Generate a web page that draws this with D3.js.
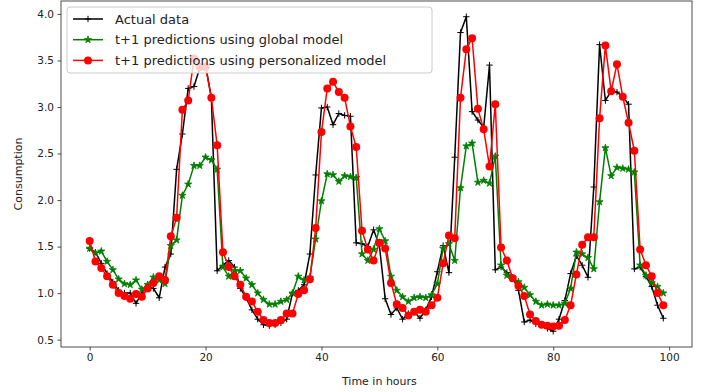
<!DOCTYPE html>
<html>
<head>
<meta charset="utf-8">
<script src="https://cdn.jsdelivr.net/npm/d3@7"></script>
<style>
  body { margin: 0; background: #fff; }
  svg { display: block; font-family: "DejaVu Sans", sans-serif; }
</style>
</head>
<body>
<svg id="chart"></svg>
<script>
// values, one per hour (0..99)
const actual = [
  1.48, 1.44, 1.32, 1.21, 1.12, 1.03, 1.00, 1.00, 0.89, 1.00,
  1.07, 1.05, 0.95, 1.28, 1.42, 2.33, 2.71, 3.20, 3.22, 3.42,
  3.45, 3.10, 1.24, 1.30, 1.35, 1.28, 1.05, 0.95, 0.82, 0.72,
  0.66, 0.65, 0.66, 0.68, 0.72, 1.00, 1.03, 1.09, 1.42, 2.27,
  2.99, 3.00, 2.81, 2.93, 2.91, 2.90, 1.54, 1.53, 1.50, 1.68,
  1.51, 0.94, 0.77, 0.84, 0.72, 0.78, 0.80, 0.73, 0.82, 0.96,
  1.23, 1.51, 1.22, 2.46, 3.80, 3.97, 2.95, 2.86, 2.78, 3.45,
  1.25, 1.28, 1.22, 1.17, 1.03, 0.69, 0.71, 0.67, 0.66, 0.62,
  0.59, 0.72, 0.92, 1.21, 1.40, 1.30, 1.17, 2.14, 3.67, 3.07,
  3.17, 3.16, 3.11, 3.03, 1.26, 1.28, 1.18, 1.07, 0.87, 0.73
]

const globalPred = [
  1.48, 1.43, 1.45, 1.34, 1.25, 1.15, 1.10, 1.09, 1.14, 1.04,
  1.09, 1.17, 1.14, 1.10, 1.51, 1.57, 2.05, 2.17, 2.37, 2.37,
  2.46, 2.43, 2.33, 1.28, 1.18, 1.24, 1.24, 1.16, 1.09, 1.00,
  0.93, 0.88, 0.88, 0.91, 0.93, 1.00, 1.18, 1.14, 1.17, 1.58,
  1.99, 2.28, 2.27, 2.20, 2.26, 2.25, 2.24, 1.42, 1.35, 1.47,
  1.69, 1.56, 1.18, 1.03, 0.96, 0.91, 0.95, 0.96, 0.95, 0.98,
  1.10, 1.48, 1.53, 1.35, 2.13, 2.58, 2.61, 2.19, 2.21, 2.18,
  2.47, 1.30, 1.19, 1.16, 1.12, 1.06, 0.98, 0.91, 0.87, 0.88,
  0.87, 0.87, 0.89, 1.05, 1.44, 1.42, 1.38, 1.26, 1.98, 2.56,
  2.26, 2.35, 2.34, 2.33, 2.30, 1.30, 1.19, 1.11, 1.07, 1.00
]

const personalPred = [
  1.56, 1.34, 1.27, 1.18, 1.09, 1.00, 0.97, 0.94, 0.99, 0.96,
  1.05, 1.11, 1.18, 1.14, 1.61, 1.81, 2.97, 3.07, 3.52, 3.43,
  3.43, 3.10, 2.59, 1.44, 1.28, 1.18, 1.09, 0.96, 0.91, 0.80,
  0.71, 0.68, 0.68, 0.71, 0.78, 0.78, 0.99, 1.03, 1.15, 1.70,
  2.73, 3.20, 3.27, 3.16, 3.10, 2.79, 2.57, 1.67, 1.47, 1.35,
  1.54, 1.48, 1.11, 0.88, 0.84, 0.76, 0.80, 0.82, 0.80, 0.87,
  0.95, 1.32, 1.62, 1.59, 3.10, 3.62, 3.74, 2.98, 2.76, 2.36,
  3.03, 1.49, 1.35, 1.16, 1.08, 0.97, 0.77, 0.70, 0.66, 0.65,
  0.64, 0.65, 0.71, 0.87, 1.20, 1.52, 1.60, 1.60, 2.88, 3.66,
  3.17, 3.46, 3.11, 2.83, 2.53, 1.47, 1.30, 1.18, 1.00, 0.87
]

const xTicks = [0, 20, 40, 60, 80, 100]
const yTicks = [0.5, 1.0, 1.5, 2.0, 2.5, 3.0, 3.5, 4.0]

const series = [
  {name: "Actual data", values: actual, color: "#000000", marker: "plus"},
  {name: "t+1 predictions using global model", values: globalPred, color: "#008000", marker: "star"},
  {name: "t+1 predictions using personalized model", values: personalPred, color: "#ff0000", marker: "circle"},
]

const width = 709
const height = 392
const margin = {top: 1, right: 17, bottom: 45, left: 61}

const svg = d3.select("#chart")
  .attr("width", width)
  .attr("height", height)
  .attr("viewBox", `0 0 ${width} ${height}`)

// matplotlib style 5% padding around the data
const n = actual.length
const xPad = (n - 1) * 0.05
const all = series.flatMap(s => s.values)
const [lo, hi] = d3.extent(all)
const yPad = (hi - lo) * 0.05

const x = d3.scaleLinear()
  .domain([-xPad, n - 1 + xPad])
  .range([margin.left, width - margin.right])

const y = d3.scaleLinear()
  .domain([lo - yPad, hi + yPad])
  .range([height - margin.bottom, margin.top])

const line = d3.line()
  .x((d, i) => x(i))
  .y(d => y(d))

const star = d3.symbol().type(d3.symbolStar).size(16)()

function drawMarker(g, kind, color) {
  if (kind == "plus") {
    g.append("path")
      .attr("d", "M-3.2,0H3.2M0,-3.2V3.2")
      .attr("stroke", color)
      .attr("stroke-width", 1)
      .attr("fill", "none")
  } else if (kind == "star") {
    g.append("path")
      .attr("d", star)
      .attr("fill", color)
      .attr("stroke", color)
      .attr("stroke-width", 0.8)
  } else {
    g.append("circle")
      .attr("r", 4)
      .attr("fill", color)
  }
}

const plot = svg.append("g")

for (const s of series) {
  plot.append("path")
    .datum(s.values)
    .attr("d", line)
    .attr("fill", "none")
    .attr("stroke", s.color)
    .attr("stroke-width", 1.5)
    .attr("stroke-linejoin", "round")

  plot.append("g")
    .selectAll("g")
    .data(s.values)
    .join("g")
      .attr("transform", (d, i) => `translate(${x(i)},${y(d)})`)
      .each(function () { drawMarker(d3.select(this), s.marker, s.color) })
}

// frame
svg.append("rect")
  .attr("x", margin.left)
  .attr("y", margin.top)
  .attr("width", width - margin.left - margin.right)
  .attr("height", height - margin.top - margin.bottom)
  .attr("fill", "none")
  .attr("stroke", "#222")
  .attr("stroke-width", 0.8)

const xAxis = svg.append("g")
  .attr("transform", `translate(0,${height - margin.bottom})`)
  .call(d3.axisBottom(x).tickValues(xTicks).tickSize(3.5).tickPadding(3.5).tickFormat(d3.format("d")))
xAxis.select(".domain").remove()

const yAxis = svg.append("g")
  .attr("transform", `translate(${margin.left},0)`)
  .call(d3.axisLeft(y).tickValues(yTicks).tickSize(3.5).tickPadding(3.5).tickFormat(d3.format(".1f")))
yAxis.select(".domain").remove()

svg.selectAll(".tick text")
  .attr("font-family", "DejaVu Sans, sans-serif")
  .attr("font-size", 10.5)
  .attr("fill", "#222")
svg.selectAll(".tick line").attr("stroke", "#222").attr("stroke-width", 0.8)

svg.append("text")
  .attr("x", x(50))
  .attr("y", 385)
  .attr("text-anchor", "middle")
  .attr("font-size", 11)
  .attr("fill", "#222")
  .text("Time in hours")

svg.append("text")
  .attr("transform", `translate(22,${(margin.top + height - margin.bottom) / 2}) rotate(-90)`)
  .attr("text-anchor", "middle")
  .attr("font-size", 11)
  .attr("fill", "#222")
  .text("Consumption")

// legend
const legend = svg.append("g").attr("transform", "translate(67,7)")
legend.append("rect")
  .attr("width", 365)
  .attr("height", 66)
  .attr("rx", 3)
  .attr("fill", "#fff")
  .attr("fill-opacity", 0.8)
  .attr("stroke", "#ccc")
  .attr("stroke-width", 1)

const item = legend.selectAll("g.item")
  .data(series)
  .join("g")
    .attr("class", "item")
    .attr("transform", (d, i) => `translate(0,${12 + i * 20.7})`)

item.append("line")
  .attr("x1", 6).attr("x2", 36)
  .attr("stroke", d => d.color)
  .attr("stroke-width", 1.5)

item.append("g")
  .attr("transform", "translate(21,0)")
  .each(function (d) { drawMarker(d3.select(this), d.marker, d.color) })

item.append("text")
  .attr("x", 48)
  .attr("dy", "0.35em")
  .attr("font-size", 13)
  .attr("fill", "#222")
  .text(d => d.name)
</script>
</body>
</html>
